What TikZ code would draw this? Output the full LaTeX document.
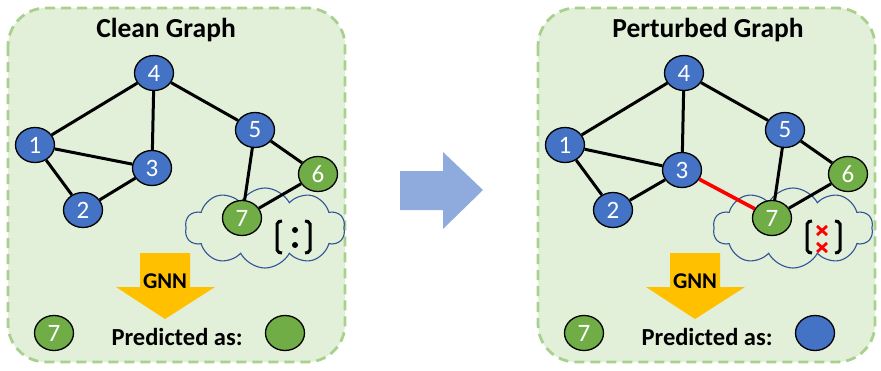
\documentclass[tikz,border=0pt]{standalone}
\usepackage{fontspec}
\setmainfont{Carlito}
\usetikzlibrary{shapes.geometric,shapes.symbols}

\definecolor{panelfill}{HTML}{E2EFD9}
\definecolor{panelborder}{HTML}{A9D18E}
\definecolor{nodeblue}{HTML}{4472C4}
\definecolor{nodegreen}{HTML}{70AD47}
\definecolor{cloudline}{HTML}{2F5597}
\definecolor{gnnyellow}{HTML}{FFC000}
\definecolor{flowblue}{HTML}{8FAADC}

\tikzset{
  panel/.style={draw=panelborder, fill=panelfill, line width=2.8pt,
    dash pattern=on 10pt off 6pt, rounded corners=38pt},
  vtx/.style={ellipse, draw=black, line width=1.3pt, minimum width=39pt,
    minimum height=35pt, inner sep=0pt, text=white,
    font=\fontsize{25}{25}\selectfont},
  bluev/.style={vtx, fill=nodeblue},
  greenv/.style={vtx, fill=nodegreen},
  link/.style={line width=3pt, black},
  badlink/.style={line width=3.6pt, red},
  thought/.style={cloud, cloud puffs=10, cloud puff arc=125, aspect=2.0,
    draw=cloudline, line width=1.1pt, minimum width=160pt, minimum height=80pt},
  title/.style={font=\bfseries\fontsize{27.5}{27.5}\selectfont},
  caption/.style={font=\bfseries\fontsize{24.5}{24.5}\selectfont},
  gnnlabel/.style={font=\bfseries\fontsize{22.5}{22.5}\selectfont},
  bracket/.style={line width=3pt, rounded corners=2pt},
  cross/.style={red, line width=2.8pt},
}

\begin{document}
\begin{tikzpicture}[x=1pt, y=-1pt]
\useasboundingbox (0,0) rectangle (881,370);

% ---------- clean graph ----------
\draw[panel] (8,8) rectangle (345,362);
\node[title] (ctitle) at (166,30) {Clean Graph};
\node[thought] (ccloud) at (265,228) {};

\node[bluev] (c4) at (154,73) {4};
\node[bluev] (c1) at (35,145) {1};
\node[bluev] (c5) at (255,130) {5};
\node[bluev] (c3) at (152,168) {3};
\node[bluev] (c2) at (83,210) {2};
\node[greenv] (c6) at (318,174) {6};
\node[greenv] (c7) at (242,218) {7};

\draw[link] (c4) -- (c1);
\draw[link] (c4) -- (c3);
\draw[link] (c4) -- (c5);
\draw[link] (c1) -- (c3);
\draw[link] (c1) -- (c2);
\draw[link] (c2) -- (c3);
\draw[link] (c5) -- (c6);
\draw[link] (c5) -- (c7);
\draw[link] (c6) -- (c7);

% happy face in brackets
\draw[bracket] (282,221) -- (277,222) -- (277,252) -- (282,253);
\draw[bracket] (305,221) -- (310,222) -- (310,252) -- (305,253);
\fill (295,230) circle (3pt);
\fill (295,245) circle (3pt);

% GNN step
\fill[gnnyellow] (140,253) -- (190,253) -- (190,287) -- (215,287)
  -- (165,319) -- (116,287) -- (140,287) -- cycle;
\node[gnnlabel] (cgnn) at (165,281) {GNN};
\node[greenv] (cin) at (54,333) {7};
\node[caption, anchor=west] (cpred) at (108,337) {Predicted as:};
\node[greenv] (cout) at (285,333) {};

% ---------- transition arrow ----------
\fill[flowblue] (400,171) -- (443,171) -- (443,152) -- (483,190)
  -- (443,229) -- (443,210) -- (400,210) -- cycle;

% ---------- perturbed graph ----------
\draw[panel] (538,8) rectangle (875,362);
\node[title] (ptitle) at (708,30) {Perturbed Graph};
\node[thought] (pcloud) at (793,228) {};

\node[bluev] (p4) at (684,73) {4};
\node[bluev] (p1) at (565,145) {1};
\node[bluev] (p5) at (785,130) {5};
\node[bluev] (p3) at (682,170) {3};
\node[bluev] (p2) at (613,210) {2};
\node[greenv] (p6) at (848,174) {6};
\node[greenv] (p7) at (772,218) {7};

\draw[link] (p4) -- (p1);
\draw[link] (p4) -- (p3);
\draw[link] (p4) -- (p5);
\draw[link] (p1) -- (p3);
\draw[link] (p1) -- (p2);
\draw[link] (p2) -- (p3);
\draw[link] (p5) -- (p6);
\draw[link] (p5) -- (p7);
\draw[link] (p6) -- (p7);
\draw[badlink] (p3) -- (p7);

% unhappy face in brackets
\draw[bracket] (812,221) -- (807,222) -- (807,252) -- (812,253);
\draw[bracket] (835,221) -- (840,222) -- (840,252) -- (835,253);
\draw[cross] (817,226) -- (827,235) (817,235) -- (827,226);
\draw[cross] (817,243) -- (827,252) (817,252) -- (827,243);

% GNN step
\fill[gnnyellow] (670,253) -- (720,253) -- (720,287) -- (745,287)
  -- (695,319) -- (646,287) -- (670,287) -- cycle;
\node[gnnlabel] (pgnn) at (695,281) {GNN};
\node[greenv] (pin) at (584,333) {7};
\node[caption, anchor=west] (ppred) at (638,337) {Predicted as:};
\node[bluev] (pout) at (815,333) {};
\end{tikzpicture}
\end{document}
